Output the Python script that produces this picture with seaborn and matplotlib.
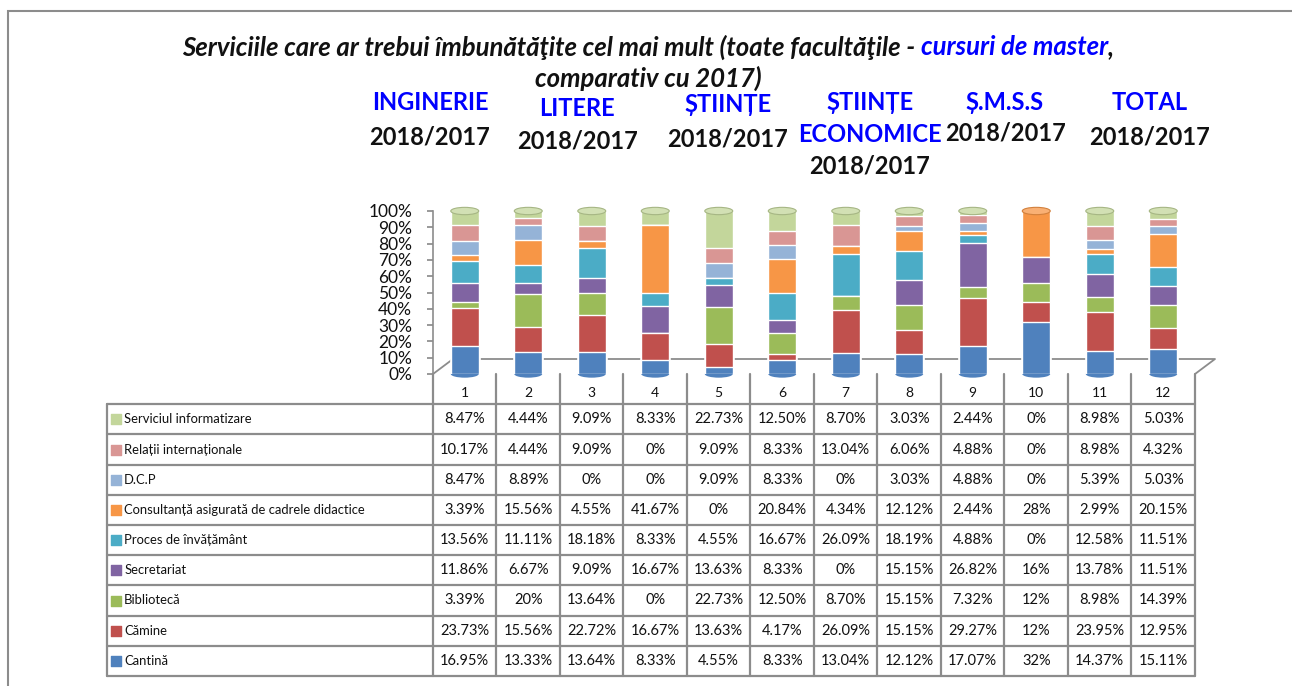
import numpy as np
import pandas as pd
import matplotlib
matplotlib.use("Agg")
import matplotlib.pyplot as plt
import matplotlib.colors as mcolors
from matplotlib.patches import Ellipse
import seaborn as sns

# columns 1..12 (faculties, 2018 / 2017 pairs + total)
columns = [str(i) for i in range(1, 13)]

# series, bottom to top of the stack
series = ["Cantină", "Cămine", "Bibliotecă", "Secretariat", "Proces de învățământ",
          "Consultanță asigurată de cadrele didactice", "D.C.P",
          "Relații internaționale", "Serviciul informatizare"]

cantina = [16.95, 13.33, 13.64, 8.33, 4.55, 8.33, 13.04, 12.12, 17.07, 32, 14.37, 15.11]
camine = [23.73, 15.56, 22.72, 16.67, 13.63, 4.17, 26.09, 15.15, 29.27, 12, 23.95, 12.95]
biblioteca = [3.39, 20, 13.64, 0, 22.73, 12.50, 8.70, 15.15, 7.32, 12, 8.98, 14.39]
secretariat = [11.86, 6.67, 9.09, 16.67, 13.63, 8.33, 0, 15.15, 26.82, 16, 13.78, 11.51]
proces = [13.56, 11.11, 18.18, 8.33, 4.55, 16.67, 26.09, 18.19, 4.88, 0, 12.58, 11.51]
consultanta = [3.39, 15.56, 4.55, 41.67, 0, 20.84, 4.34, 12.12, 2.44, 28, 2.99, 20.15]
dcp = [8.47, 8.89, 0, 0, 9.09, 8.33, 0, 3.03, 4.88, 0, 5.39, 5.03]
relatii = [10.17, 4.44, 9.09, 0, 9.09, 8.33, 13.04, 6.06, 4.88, 0, 8.98, 4.32]
informatizare = [8.47, 4.44, 9.09, 8.33, 22.73, 12.50, 8.70, 3.03, 2.44, 0, 8.98, 5.03]

# cell texts as printed in the data table
cell_text = {
    "Serviciul informatizare": ["8.47%", "4.44%", "9.09%", "8.33%", "22.73%", "12.50%", "8.70%", "3.03%", "2.44%", "0%", "8.98%", "5.03%"],
    "Relații internaționale": ["10.17%", "4.44%", "9.09%", "0%", "9.09%", "8.33%", "13.04%", "6.06%", "4.88%", "0%", "8.98%", "4.32%"],
    "D.C.P": ["8.47%", "8.89%", "0%", "0%", "9.09%", "8.33%", "0%", "3.03%", "4.88%", "0%", "5.39%", "5.03%"],
    "Consultanță asigurată de cadrele didactice": ["3.39%", "15.56%", "4.55%", "41.67%", "0%", "20.84%", "4.34%", "12.12%", "2.44%", "28%", "2.99%", "20.15%"],
    "Proces de învățământ": ["13.56%", "11.11%", "18.18%", "8.33%", "4.55%", "16.67%", "26.09%", "18.19%", "4.88%", "0%", "12.58%", "11.51%"],
    "Secretariat": ["11.86%", "6.67%", "9.09%", "16.67%", "13.63%", "8.33%", "0%", "15.15%", "26.82%", "16%", "13.78%", "11.51%"],
    "Bibliotecă": ["3.39%", "20%", "13.64%", "0%", "22.73%", "12.50%", "8.70%", "15.15%", "7.32%", "12%", "8.98%", "14.39%"],
    "Cămine": ["23.73%", "15.56%", "22.72%", "16.67%", "13.63%", "4.17%", "26.09%", "15.15%", "29.27%", "12%", "23.95%", "12.95%"],
    "Cantină": ["16.95%", "13.33%", "13.64%", "8.33%", "4.55%", "8.33%", "13.04%", "12.12%", "17.07%", "32%", "14.37%", "15.11%"],
}

faculties = [("INGINERIE", ""), ("LITERE", ""), ("ȘTIINȚE", ""), ("ȘTIINȚE", "ECONOMICE"),
             ("Ș.M.S.S", ""), ("TOTAL", "")]
period = "2018/2017"

colors = ["#4F81BD", "#C0504D", "#9BBB59", "#8064A2", "#4BACC6",
          "#F79646", "#95B3D7", "#D99694", "#C3D69B"]

values = pd.DataFrame(
    [cantina, camine, biblioteca, secretariat, proces, consultanta, dcp, relatii, informatizare],
    index=series, columns=columns)

sns.set_theme(style="white")
plt.rcParams["font.family"] = ["Lato", "DejaVu Sans"]

W, H = 1292, 686
fig = plt.figure(figsize=(W / 100, H / 100), dpi=100)


def box(l, t, r, b):
    return [l / W, 1 - b / H, (r - l) / W, (b - t) / H]


# chart border
fig.add_artist(plt.Rectangle((8 / W, -0.05), 1.2, 1 - 8 / H + 0.05 - 3 / H,
                             transform=fig.transFigure, fill=False,
                             edgecolor="#8C8C8C", linewidth=1.5))

# ---- stacked bars ----
ax = fig.add_axes(box(433, 211, 1195, 374))
cum = values.cumsum()
bar_w = 0.44
for i in range(len(series) - 1, -1, -1):
    df = pd.DataFrame({"col": columns, "val": cum.iloc[i].values})
    sns.barplot(data=df, x="col", y="val", color=colors[i], width=bar_w,
                saturation=1, ax=ax, zorder=3, order=columns)

# cylinder caps
totals = cum.iloc[-1].values
cap_h = 4.5
for j in range(len(columns)):
    top_idx = max(k for k in range(len(series)) if values.iloc[k, j] > 0)
    top_col = np.array(mcolors.to_rgb(colors[top_idx]))
    light = 1 - (1 - top_col) * 0.75
    ax.add_patch(Ellipse((j, totals[j]), bar_w, cap_h, facecolor=light,
                         edgecolor=top_col * 0.85, lw=0.8, zorder=5, clip_on=False))
    ax.add_patch(Ellipse((j, 0), bar_w, cap_h, facecolor=colors[0],
                         edgecolor="none", zorder=2, clip_on=False))

ax.set_xlim(-0.5, len(columns) - 0.5)
ax.set_ylim(0, 100)
ax.set_yticks(np.arange(0, 101, 10))
ax.set_yticklabels([f"{v}%" for v in range(0, 101, 10)], fontsize=12.5, color="#111111")
ax.set_xticks([])
ax.set_xlabel("")
ax.set_ylabel("")
for s in ["top", "right", "bottom"]:
    ax.spines[s].set_visible(False)
ax.spines["left"].set_color("#8C8C8C")
ax.spines["left"].set_linewidth(1.2)
ax.tick_params(axis="y", left=True, length=4, color="#8C8C8C", pad=11)
ax.patch.set_alpha(0)

# floor of the 3D box
dx, dy = 20 / 762, 15 / 163
ax.plot([0, dx, 1 + dx, 1], [0, dy, dy, 0], transform=ax.transAxes,
        color="#8C8C8C", lw=1.3, clip_on=False, zorder=1)

# ---- data table ----
row_order = series[::-1]
lw = (433 - 107) / ((1195 - 433) / 12)
tab = fig.add_axes(box(107, 374, 1195, 676))
tab.set_xlim(-0.5 - lw, len(columns) - 0.5)
tab.set_ylim(len(row_order), -1)
tab.axis("off")
gc = "#8C8C8C"
for k in range(len(columns) + 1):
    tab.plot([k - 0.5, k - 0.5], [-1, len(row_order)], color=gc, lw=1.6, clip_on=False)
tab.plot([-0.5 - lw, -0.5 - lw], [0, len(row_order)], color=gc, lw=1.6, clip_on=False)
for r in range(len(row_order) + 1):
    tab.plot([-0.5 - lw, len(columns) - 0.5], [r, r], color=gc, lw=1.6, clip_on=False)
for j, c in enumerate(columns):
    tab.text(j, -0.36, c, ha="center", va="center", fontsize=10, color="#111111")
for r, name in enumerate(row_order):
    col = colors[series.index(name)]
    tab.scatter([-0.5 - lw + 0.14], [r + 0.5], marker="s", s=62, color=col, clip_on=False)
    tab.text(-0.5 - lw + 0.27, r + 0.5, name, ha="left", va="center",
             fontsize=9.4, color="#111111")
    for j, t in enumerate(cell_text[name]):
        tab.text(j, r + 0.5, t, ha="center", va="center", fontsize=10.5, color="#111111")

# ---- title (black + blue parts) ----
renderer = fig.canvas.get_renderer()
parts = [("Serviciile care ar trebui îmbunătăţite cel mai mult (toate facultăţile - ", "#111111"),
         ("cursuri de master", "#0000FF"), (",", "#111111")]
tkw = dict(fontsize=18.5, fontweight="bold", fontstyle="italic", va="center")
texts = [fig.text(0, 1 - 47 / H, p, color=c, **tkw) for p, c in parts]
widths = [t.get_window_extent(renderer).width for t in texts]
x = (648 - sum(widths) / 2)
for t, w in zip(texts, widths):
    t.set_x(x / W)
    x += w
fig.text(648 / W, 1 - 78 / H, "comparativ cu 2017)", color="#111111", ha="center", **tkw)

# faculty headers
hx = [430, 577, 728, 870, 1005, 1150]
hy = [103, 108, 104, 103, 103, 103]
py = [137, 141, 139, 166, 133, 137]
hkw = dict(fontsize=17, fontweight="bold", ha="center", va="center")
for (a, b), x0, y0, y1 in zip(faculties, hx, hy, py):
    fig.text(x0 / W, 1 - y0 / H, a, color="#0000FF", **hkw)
    if b:
        fig.text(x0 / W, 1 - 134 / H, b, color="#0000FF", **hkw)
    fig.text(x0 / W, 1 - y1 / H, period, color="#111111", **hkw)

fig.savefig("out.png", dpi=100)
